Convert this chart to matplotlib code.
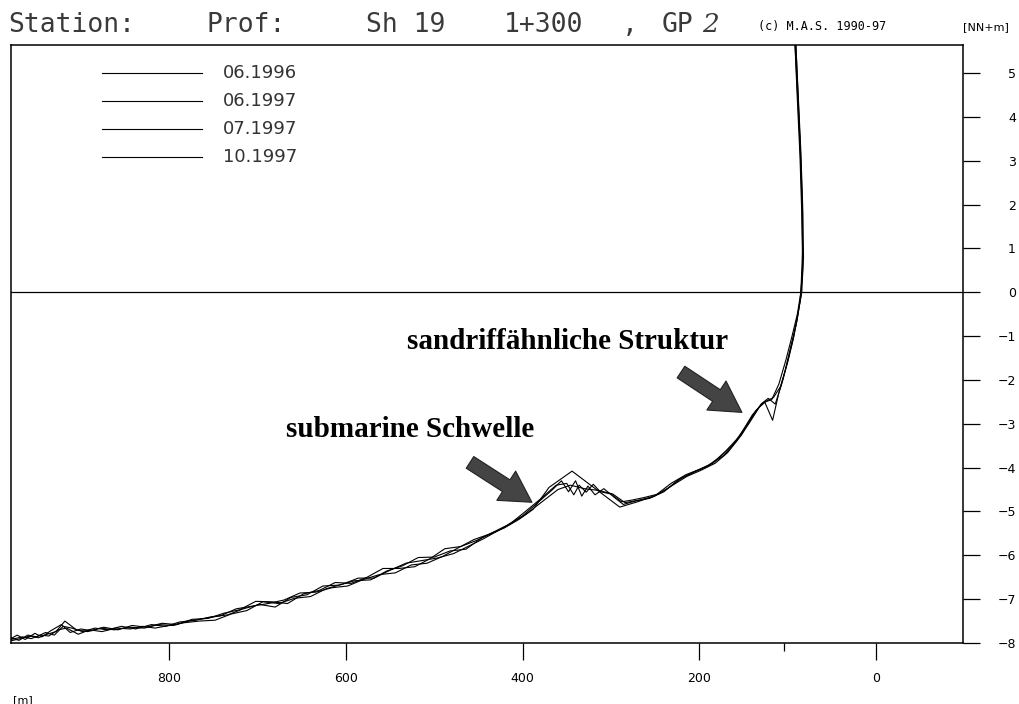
import matplotlib
matplotlib.use("Agg")
import matplotlib.pyplot as plt

# ---------------- data ----------------
dist_a = [979, 968, 958, 948, 938, 928, 918, 905, 892, 878, 862, 845, 828, 812, 795, 778, 760, 742, 724, 706,
          688, 670, 652, 634, 616, 598, 580, 562, 544, 526, 508, 490, 472, 455, 438, 421, 404, 388, 370, 344,
          290, 270, 250, 232, 215, 200, 185, 170, 155, 140, 128, 118, 110, 102, 95, 89, 85, 83, 84, 86, 89, 92]
elev_a = [-7.95, -7.90, -7.84, -7.88, -7.80, -7.74, -7.50, -7.70, -7.74, -7.66, -7.70, -7.64, -7.66, -7.58, -7.60,
          -7.50, -7.44, -7.38, -7.22, -7.16, -7.10, -7.02, -6.86, -6.84, -6.74, -6.70, -6.55, -6.44, -6.40, -6.22,
          -6.18, -6.02, -5.82, -5.64, -5.52, -5.38, -5.18, -4.95, -4.45, -4.08, -4.90, -4.78, -4.64, -4.36, -4.16,
          -4.04, -3.90, -3.62, -3.30, -2.80, -2.52, -2.45, -2.10, -1.55, -1.00, -0.50, 0.0, 1.0, 2.2, 3.4, 4.6, 5.8]

dist_b = [979, 972, 963, 952, 944, 934, 922, 912, 900, 888, 874, 858, 842, 826, 808, 792, 774, 756, 738, 720,
          702, 684, 666, 648, 630, 612, 594, 576, 558, 540, 522, 505, 488, 470, 452, 436, 418, 400, 384, 366,
          356, 348, 340, 333, 326, 318, 308, 296, 286, 272, 256, 240, 224, 208, 192, 176, 162, 148, 136, 126,
          117, 110, 103, 96, 90, 86, 83, 83, 85, 88, 91]
elev_b = [-7.90, -7.82, -7.92, -7.78, -7.86, -7.72, -7.58, -7.76, -7.68, -7.72, -7.64, -7.70, -7.60, -7.64, -7.55,
          -7.58, -7.46, -7.44, -7.32, -7.24, -7.05, -7.06, -7.10, -6.88, -6.80, -6.62, -6.64, -6.50, -6.30, -6.30,
          -6.26, -6.08, -5.85, -5.80, -5.66, -5.50, -5.32, -5.10, -4.82, -4.50, -4.30, -4.55, -4.30, -4.65, -4.42,
          -4.62, -4.48, -4.68, -4.84, -4.76, -4.70, -4.55, -4.28, -4.12, -3.98, -3.75, -3.48, -3.08, -2.70, -2.50,
          -2.92, -2.30, -1.80, -1.20, -0.70, -0.20, 0.5, 1.8, 3.0, 4.4, 5.8]

dist_c = [979, 970, 960, 950, 940, 930, 920, 910, 898, 884, 870, 854, 838, 820, 804, 788, 770, 752, 734, 716,
          698, 680, 662, 644, 626, 608, 590, 572, 554, 536, 518, 500, 482, 464, 446, 430, 414, 398, 380, 362,
          350, 342, 336, 328, 320, 312, 300, 288, 276, 262, 246, 230, 214, 198, 182, 168, 152, 140, 130, 122,
          114, 106, 99, 93, 88, 84, 82, 83, 85, 88, 91]
elev_c = [-7.88, -7.94, -7.82, -7.86, -7.76, -7.82, -7.62, -7.66, -7.74, -7.66, -7.70, -7.62, -7.68, -7.58, -7.62,
          -7.52, -7.48, -7.40, -7.36, -7.22, -7.12, -7.18, -6.96, -6.90, -6.70, -6.68, -6.58, -6.56, -6.36, -6.24,
          -6.05, -6.04, -5.90, -5.86, -5.60, -5.46, -5.28, -5.02, -4.72, -4.40, -4.36, -4.62, -4.40, -4.56, -4.38,
          -4.55, -4.60, -4.78, -4.74, -4.68, -4.60, -4.40, -4.20, -4.06, -3.90, -3.66, -3.25, -2.85, -2.55, -2.42,
          -2.55, -2.05, -1.50, -1.00, -0.45, 0.0, 0.8, 2.0, 3.2, 4.5, 5.8]

dist_d = [979, 966, 956, 946, 936, 926, 916, 903, 890, 876, 860, 844, 830, 816, 800, 784, 766, 748, 730, 712,
          694, 676, 658, 640, 622, 604, 586, 568, 550, 532, 514, 496, 478, 460, 444, 428, 412, 396, 378, 360,
          346, 330, 314, 298, 284, 268, 252, 236, 220, 204, 188, 172, 158, 144, 132, 124, 116, 108, 100, 94,
          89, 85, 83, 84, 86, 89, 92]
elev_d = [-7.92, -7.86, -7.90, -7.82, -7.84, -7.70, -7.66, -7.80, -7.70, -7.74, -7.66, -7.68, -7.62, -7.66, -7.60,
          -7.54, -7.50, -7.48, -7.34, -7.26, -7.06, -7.10, -6.98, -6.94, -6.76, -6.66, -6.52, -6.52, -6.34, -6.18,
          -6.12, -6.06, -5.96, -5.78, -5.62, -5.44, -5.26, -5.06, -4.78, -4.50, -4.40, -4.48, -4.52, -4.60, -4.80,
          -4.74, -4.66, -4.48, -4.24, -4.08, -3.94, -3.72, -3.40, -3.00, -2.62, -2.48, -2.40, -2.15, -1.60, -1.10,
          -0.60, -0.10, 0.6, 1.8, 3.1, 4.4, 5.8]

series_labels = ["06.1996", "06.1997", "07.1997", "10.1997"]
x_ticks = [800, 600, 400, 200, 0]
x_minor_ticks = [104]
y_ticks = [5, 4, 3, 2, 1, 0, -1, -2, -3, -4, -5, -6, -7, -8]
annot_texts = ["sandriffähnliche Struktur", "submarine Schwelle"]

# ---------------- figure ----------------
W, H = 1020, 704
fig = plt.figure(figsize=(W / 100, H / 100), dpi=100)
L, R, T, B = 11, 963, 45, 643
ax = fig.add_axes([L / W, 1 - B / H, (R - L) / W, (B - T) / H])

series = [(dist_a, elev_a), (dist_b, elev_b), (dist_c, elev_c), (dist_d, elev_d)]
for (xs, ys), lab in zip(series, series_labels):
    ax.plot(xs, ys, color="black", lw=0.8, label=lab)

ax.set_xlim(979, -98.5)
ax.set_ylim(-8, 5.64)
ax.axhline(0, color="black", lw=0.9)

for s in ax.spines.values():
    s.set_linewidth(1.1)

ax.set_xticks(x_ticks)
ax.set_xticklabels([str(v) for v in x_ticks])
ax.set_xticks(x_minor_ticks, minor=True)
ax.set_yticks(y_ticks)
ax.set_yticklabels([("\u2212" + str(-v)) if v < 0 else str(v) for v in y_ticks])
ax.yaxis.tick_right()
ax.tick_params(axis="x", which="major", direction="out", length=12, width=0.9, pad=9, labelsize=9)
ax.tick_params(axis="x", which="minor", direction="out", length=6, width=0.9)
ax.tick_params(axis="y", direction="out", length=12, width=0.9, pad=26, labelsize=9)
for lbl in ax.get_yticklabels():
    lbl.set_horizontalalignment("right")

# manual legend
leg_y = [0.953, 0.906, 0.860, 0.813]
for yy, lab in zip(leg_y, series_labels):
    ax.plot([0.0956, 0.2006], [yy, yy], transform=ax.transAxes, color="black", lw=0.8, clip_on=False)
    ax.text(0.2227, yy, lab, transform=ax.transAxes, fontsize=13, va="center", ha="left",
            family="DejaVu Sans", color="#333333")

# annotations
ax.text(349, -1.30, annot_texts[0], fontsize=21, fontweight="bold", family="Liberation Serif",
        ha="center", va="baseline")
ax.text(527, -3.30, annot_texts[1], fontsize=21, fontweight="bold", family="Liberation Serif",
        ha="center", va="baseline")
arrow_kw = dict(arrowstyle="simple,head_length=1.1,head_width=1.25,tail_width=0.5",
                fc="#444444", ec="#222222", lw=0.8, mutation_scale=20, shrinkA=0, shrinkB=0)
ax.annotate("", xy=(151.7, -2.74), xytext=(220.7, -1.82), arrowprops=arrow_kw)
ax.annotate("", xy=(389.4, -4.79), xytext=(459.5, -3.88), arrowprops=arrow_kw)

# header texts
def ftxt(px, py, s, **kw):
    fig.text(px / W, 1 - py / H, s, **kw)

mono = dict(family="DejaVu Sans Mono", fontsize=19, va="baseline", ha="left", color="#3a3a3a")
ftxt(8, 32, "Station:", **mono)
ftxt(207, 32, "Prof:", **mono)
ftxt(366, 32, "Sh 19", **mono)
ftxt(504, 32, "1+300", **mono)
ftxt(622, 32, ",", **mono)
ftxt(662, 32, "GP", **mono)
ftxt(702, 32, "2", family="DejaVu Serif", style="italic", fontsize=19, va="baseline", ha="left", color="#3a3a3a")
ftxt(758, 30, "(c) M.A.S. 1990-97", family="DejaVu Sans Mono", fontsize=8.5, va="baseline", ha="left")
ftxt(963, 30, "[NN+m]", family="DejaVu Sans", fontsize=8, va="baseline", ha="left")
ftxt(13, 703, "[m]", family="DejaVu Sans", fontsize=8, va="baseline", ha="left")

fig.savefig("out.png", dpi=100)
